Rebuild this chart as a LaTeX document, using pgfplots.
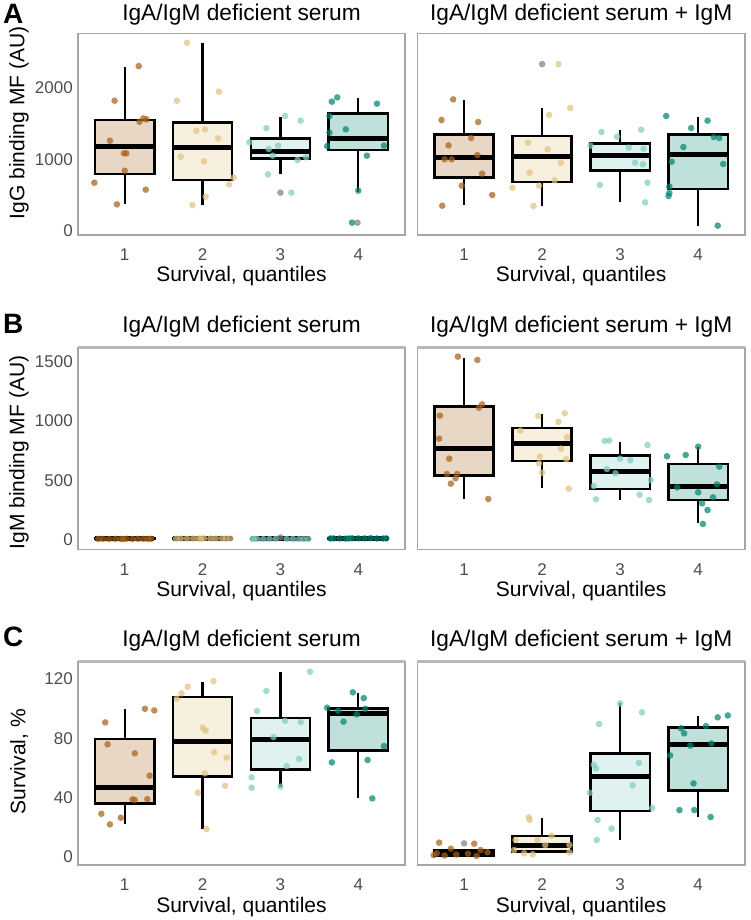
\documentclass[border=0pt]{standalone}
\usepackage{pgfplots}
\pgfplotsset{compat=1.18}
\usepackage{fontspec}
\setmainfont{Liberation Sans}
\definecolor{c1}{HTML}{A6611A}
\definecolor{c2}{HTML}{DFC27D}
\definecolor{c3}{HTML}{80CDC1}
\definecolor{c4}{HTML}{018571}
\definecolor{na}{HTML}{7F7F7F}
\definecolor{tickgray}{HTML}{4D4D4D}
\definecolor{border}{HTML}{A6A6A6}
\definecolor{topborder}{HTML}{B8B8B8}

% #1 colour, #2 left, #3 centre, #4 right, #5 lower whisker, #6 q1, #7 median, #8 q3, #9 upper whisker
\newcommand{\bx}[9]{%
  \addplot[black, line width=2.3pt] coordinates {(#3,#5) (#3,#6)};
  \addplot[black, line width=2.3pt] coordinates {(#3,#8) (#3,#9)};
  \addplot[draw=black, line width=2.6pt, fill=#1, fill opacity=0.25] coordinates {(#2,#6) (#4,#6) (#4,#8) (#2,#8)} --cycle;
  \addplot[black, line width=5pt] coordinates {(#2,#7) (#4,#7)};
}
\newcommand{\pts}[2]{\addplot[only marks, mark=*, mark size=3.3pt,
  mark options={draw opacity=0, fill=#1, fill opacity=0.72}] coordinates {#2};}

\pgfplotsset{
  every axis title shift=0pt,
  panel/.style={
    scale only axis, width=327pt,
    xmin=0.4, xmax=4.6, xtick={1,2,3,4}, xticklabels={1,2,3,4},
    axis line style={draw=border, line width=1.1pt},
    major tick length=0pt,
    tick label style={font=\fontsize{17}{20}\selectfont, text=tickgray},
    xticklabel style={anchor=base, inner sep=0pt, yshift=-26pt},
    yticklabel style={anchor=east, inner sep=0pt, xshift=-5pt},
    xlabel={Survival, quantiles},
    label style={font=\fontsize{21}{25}\selectfont},
    xlabel style={at={(axis description cs:0.5,0)}, anchor=base, yshift=-47pt},
    title style={font=\fontsize{22.7}{27}\selectfont, at={(axis description cs:0.5,1)}, anchor=base, inner sep=0pt, yshift=15pt},
  },
  leftp/.style={panel, ylabel style={at={(axis description cs:-0.1804,#1)}, anchor=center}},
  rightp/.style={panel, width=327.7pt, yticklabels={}},
  toprow/.style={title style={yshift=-2.5pt}},
  thicktop/.style={after end axis/.code={\draw[topborder, line width=3pt] (rel axis cs:0,1) -- (rel axis cs:1,1);}},
}

\begin{document}
\begin{tikzpicture}
\useasboundingbox (0,0) rectangle (750pt,920pt);
\node[anchor=base west, inner sep=0pt, font=\fontsize{28}{30}\selectfont\bfseries] at (3pt,896.7pt) {A};
\node[anchor=base west, inner sep=0pt, font=\fontsize{28}{30}\selectfont\bfseries] at (3pt,586.7pt) {B};
\node[anchor=base west, inner sep=0pt, font=\fontsize{28}{30}\selectfont\bfseries] at (3pt,273.3pt) {C};

% ---------------- A left
\begin{axis}[leftp=0.556, toprow, at={(78pt,685pt)}, anchor=south west, height=201.7pt,
  ymin=-56, ymax=2760, ytick={0,1000,2000}, yticklabels={0,1000,2000},
  title={IgA/IgM deficient serum}, ylabel={IgG binding MF (AU)}]
\pts{c1}{(0.61,674) (0.87,1819) (0.81,1260) (0.99,1084) (1.02,1084) (1.00,842) (1.18,2302) (1.24,1572) (1.19,1526) (1.28,1558) (1.27,577) (0.90,372)}
\pts{c2}{(1.80,2628) (1.67,1819) (2.21,1944) (1.92,1400) (2.03,1419) (2.20,1293) (1.72,1037) (2.02,972) (2.40,744) (2.34,651) (2.04,479) (1.87,363)}
\pts{c3}{(3.06,1605) (3.26,1540) (2.82,1437) (2.60,1237) (2.85,1144) (2.97,1191) (2.90,1051) (3.22,991) (3.33,1028) (2.84,791) (3.14,535)}
\pts{c4}{(3.66,1805) (3.73,1865) (4.24,1777) (3.63,1605) (3.84,1419) (3.63,1372) (3.60,1186) (4.33,1191) (4.11,1051) (4.00,563) (3.92,116)}
\pts{na}{(3.00,535) (3.99,116)}
\bx{c1}{0.62}{1}{1.38}{377}{795}{1177}{1549}{2293}
\bx{c2}{1.62}{2}{2.38}{363}{712}{1167}{1516}{2618}
\bx{c3}{2.62}{3}{3.38}{795}{1014}{1107}{1293}{1595}
\bx{c4}{3.62}{4}{4.38}{549}{1130}{1293}{1642}{1851}
\end{axis}

% ---------------- A right
\begin{axis}[rightp, toprow, at={(417.3pt,685pt)}, anchor=south west, height=201.7pt,
  ymin=-56, ymax=2760, ytick={0,1000,2000},
  title={IgA/IgM deficient serum + IgM}]
\pts{c1}{(0.86,1837) (0.71,1549) (1.18,1521) (1.09,1298) (0.80,1195) (1.17,1060) (0.75,1000) (0.84,1000) (1.23,800) (0.97,633) (1.36,502) (0.72,353)}
\pts{c2}{(2.21,2330) (2.36,1716) (2.09,1619) (1.82,1233) (2.07,1140) (2.24,953) (1.84,814) (2.16,707) (1.62,605) (1.96,633) (1.89,349)}
\pts{c3}{(2.76,1381) (3.27,1414) (2.96,1316) (2.62,1191) (3.11,1163) (3.30,1149) (3.19,953) (3.29,930) (2.74,642) (3.35,674) (3.32,400)}
\pts{c4}{(3.59,1605) (4.12,1540) (3.91,1437) (4.20,1312) (4.27,1298) (3.81,1172) (3.66,967) (4.32,935) (3.63,619) (3.62,488) (3.63,530) (4.25,74)}
\pts{na}{(2.00,2330)}
\bx{c1}{0.62}{1}{1.38}{363}{749}{1023}{1349}{1828}
\bx{c2}{1.62}{2}{2.38}{349}{684}{1037}{1326}{1712}
\bx{c3}{2.62}{3}{3.38}{400}{842}{1051}{1223}{1409}
\bx{c4}{3.62}{4}{4.38}{74}{586}{1070}{1344}{1595}
\end{axis}

% ---------------- B left
\begin{axis}[leftp=0.48, thicktop, at={(78pt,370.7pt)}, anchor=south west, height=201.6pt,
  ymin=-78, ymax=1617, ytick={0,500,1000,1500}, yticklabels={0,500,1000,1500},
  title={IgA/IgM deficient serum}, ylabel={IgM binding MF (AU)}]
\pts{c1}{(0.66,9) (0.72,10) (0.80,9) (0.88,10) (0.95,9) (1.02,11) (1.10,9) (1.17,10) (1.24,10) (1.30,9) (1.34,10) (0.98,8)}
\pts{c2}{(1.66,12) (1.72,13) (1.80,12) (1.88,13) (1.95,12) (2.02,14) (2.10,12) (2.17,13) (2.25,13) (2.30,12) (2.36,13) (1.98,12)}
\pts{c3}{(2.64,9) (2.70,9) (2.78,8) (2.86,9) (2.94,10) (3.08,9) (3.16,10) (3.24,8) (3.30,9) (3.36,9) (2.66,10)}
\pts{c4}{(3.64,13) (3.68,14) (3.76,13) (3.84,12) (3.92,15) (4.00,14) (4.08,14) (4.16,16) (4.24,13) (4.32,13) (4.36,14) (3.88,13)}
\pts{na}{(3.00,22)}
\bx{c1}{0.62}{1}{1.38}{7}{8}{9}{11}{12}
\bx{c2}{1.62}{2}{2.38}{10}{11}{12}{14}{15}
\bx{c3}{2.62}{3}{3.38}{7}{8}{9}{10}{11}
\bx{c4}{3.62}{4}{4.38}{11}{12}{14}{15}{17}
\end{axis}

% ---------------- B right
\begin{axis}[rightp, thicktop, at={(417.3pt,370.7pt)}, anchor=south west, height=201.6pt,
  ymin=-78, ymax=1617, ytick={0,500,1000,1500},
  title={IgA/IgM deficient serum + IgM}]
\pts{c1}{(0.92,1542) (1.17,1514) (1.23,1141) (1.19,1113) (0.69,1046) (0.68,852) (0.81,684) (0.78,555) (0.91,555) (0.89,519) (0.83,474) (1.31,345)}
\pts{c2}{(2.29,1066) (1.95,1043) (2.21,993) (1.72,920) (2.32,864) (2.24,768) (2.31,679) (1.96,645) (2.00,566) (2.34,432) (1.97,701)}
\pts{c3}{(2.80,833) (2.86,836) (3.35,799) (3.00,684) (3.13,670) (2.83,597) (2.94,561) (3.39,505) (2.66,454) (2.69,342) (3.25,381) (3.37,336)}
\pts{c4}{(4.00,785) (3.60,704) (3.84,715) (4.27,617) (4.24,468) (3.73,443) (4.00,401) (4.19,359) (4.05,308) (4.12,252) (4.06,135)}
\bx{c1}{0.62}{1}{1.38}{345}{541}{766}{1122}{1534}
\bx{c2}{1.62}{2}{2.38}{435}{665}{808}{942}{1057}
\bx{c3}{2.62}{3}{3.38}{336}{429}{572}{712}{827}
\bx{c4}{3.62}{4}{4.38}{140}{336}{446}{639}{785}
\end{axis}

% ---------------- C left
\begin{axis}[leftp=0.508, thicktop, at={(78pt,55pt)}, anchor=south west, height=203.3pt,
  ymin=-5.6, ymax=131.7, ytick={0,40,80,120}, yticklabels={0,40,80,120},
  title={IgA/IgM deficient serum}, ylabel={Survival, \%}]
\pts{c1}{(1.26,99.9) (1.38,98.8) (0.75,90.7) (0.78,75.9) (1.13,69.8) (1.32,54.7) (1.10,38.7) (1.13,38.3) (1.29,38.9) (0.70,29.0) (0.95,26.3) (0.81,21.8)}
\pts{c2}{(2.14,118.6) (1.81,114.8) (1.73,110.3) (1.67,106.7) (2.00,87.1) (2.04,85.1) (2.15,70.5) (2.31,66.9) (2.03,56.3) (2.29,47.9) (1.94,43.2) (2.05,18.7)}
\pts{c3}{(3.38,124.9) (2.82,111.9) (2.70,98.4) (3.06,91.8) (3.26,90.9) (2.91,80.8) (3.24,66.0) (3.08,61.2) (2.63,53.6) (2.63,46.6) (3.00,47.3)}
\pts{c4}{(3.93,111.0) (4.07,107.1) (3.60,100.6) (3.74,98.6) (4.09,99.9) (3.98,96.1) (3.81,91.2) (4.33,74.7) (3.66,63.7) (4.12,65.3) (4.18,39.4)}
\bx{c1}{0.62}{1}{1.38}{22.1}{36.0}{46.6}{79.5}{99.7}
\bx{c2}{1.62}{2}{2.38}{18.9}{54.0}{77.9}{107.8}{118.2}
\bx{c3}{2.62}{3}{3.38}{47.3}{59.0}{79.2}{93.6}{124.5}
\bx{c4}{3.62}{4}{4.38}{39.4}{71.8}{96.6}{100.2}{110.3}
\end{axis}

% ---------------- C right
\begin{axis}[rightp, thicktop, at={(417.3pt,55pt)}, anchor=south west, height=203.3pt,
  ymin=-5.6, ymax=131.7, ytick={0,40,80,120},
  title={IgA/IgM deficient serum + IgM}]
\pts{c1}{(0.68,9.5) (1.13,8.8) (0.83,5.4) (0.61,1.1) (0.65,2.3) (1.16,0.5) (1.21,4.5) (0.90,1.5) (1.05,2.0) (0.75,0.8) (1.30,3.0)}
\pts{c2}{(1.83,26.6) (1.84,24.8) (2.12,14.2) (1.94,11.3) (2.04,7.9) (1.64,4.5) (1.77,2.3) (1.88,1.6) (2.35,2.9) (2.35,7.9) (1.66,11.3)}
\pts{c3}{(3.00,103.5) (3.28,97.5) (2.73,89.6) (3.24,63.3) (2.66,62.1) (2.69,59.7) (3.16,48.2) (2.61,43.2) (3.41,32.9) (2.71,24.8) (2.89,18.9) (2.70,11.3)}
\pts{c4}{(4.38,95.4) (4.25,94.1) (3.78,86.7) (4.10,88.2) (3.82,83.3) (3.90,75.0) (4.17,76.5) (3.64,68.4) (3.94,49.5) (3.76,31.5) (3.95,31.5) (4.16,26.8)}
\pts{na}{(1.00,9.0)}
\bx{c1}{0.62}{1}{1.38}{0.3}{0.8}{2.3}{4.1}{5.4}
\bx{c2}{1.62}{2}{2.38}{2.3}{3.4}{7.9}{14.0}{25.9}
\bx{c3}{2.62}{3}{3.38}{11.3}{30.8}{54.2}{69.8}{103.5}
\bx{c4}{3.62}{4}{4.38}{27.0}{44.6}{75.9}{87.1}{95.2}
\end{axis}
\end{tikzpicture}
\end{document}
